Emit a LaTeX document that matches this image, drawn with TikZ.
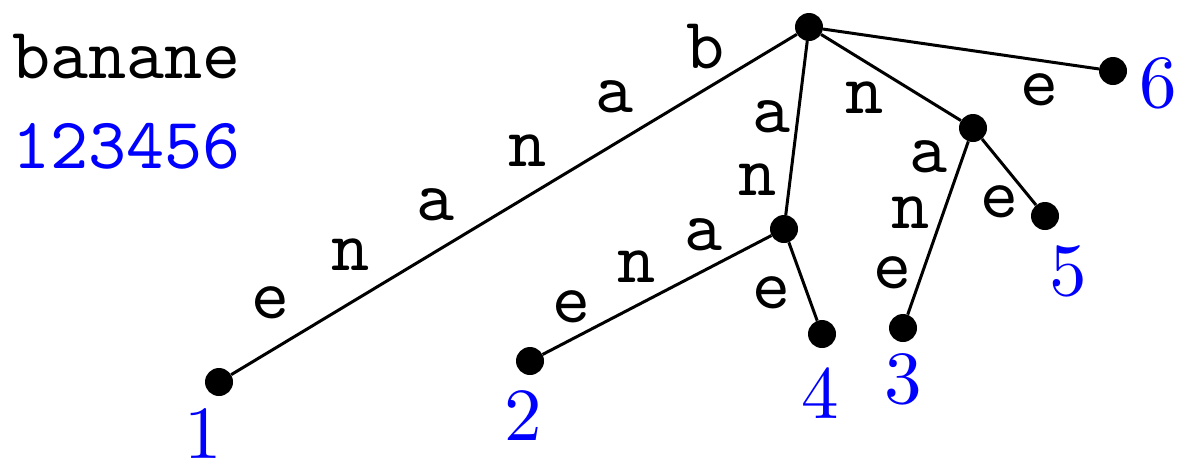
\documentclass[tikz,border=0pt]{standalone}
\usepackage{fontspec}
\newfontfamily\ttten{lmmono10-regular.otf}
\newfontfamily\rmten{lmroman10-regular.otf}
\tikzset{
  dot/.style={circle,fill=black,inner sep=0pt,minimum size=28pt},
  edge/.style={line width=3pt},
  lbl/.style={inner sep=0pt,anchor=base,font=\fontsize{72.5}{72.5}\selectfont\ttten},
  num/.style={inner sep=0pt,anchor=base,text=blue,font=\fontsize{75}{75}\selectfont\rmten}
}
\begin{document}
\begin{tikzpicture}[x=1pt,y=-1pt]
\useasboundingbox (0,0) rectangle (1180,459);
% word
\node[lbl,anchor=base west] (w) at (12,78) {banane};
\node[lbl,anchor=base west,text=blue] (wn) at (12,168) {123456};
% tree nodes
\node[dot] (r) at (809,27) {};
\node[dot] (l6) at (1113,71) {};
\node[dot] (nn) at (973,128) {};
\node[dot] (l5) at (1045,216) {};
\node[dot] (l3) at (903,328) {};
\node[dot] (an) at (784,229) {};
\node[dot] (l4) at (822,334) {};
\node[dot] (l2) at (530,361) {};
\node[dot] (l1) at (219,382) {};
% edges
\draw[edge] (r) -- (l1);
\draw[edge] (r) -- (an);
\draw[edge] (r) -- (nn);
\draw[edge] (r) -- (l6);
\draw[edge] (an) -- (l2);
\draw[edge] (an) -- (l4);
\draw[edge] (nn) -- (l3);
\draw[edge] (nn) -- (l5);
% edge letters root -> 1
\node[lbl] (e1b) at (706,68) {b};
\node[lbl] (e1a) at (615,112) {a};
\node[lbl] (e1n) at (528,166) {n};
\node[lbl] (e1a2) at (436,220) {a};
\node[lbl] (e1n2) at (351,270) {n};
\node[lbl] (e1e) at (271,318) {e};
% root -> an
\node[lbl] (ea) at (772,132) {a};
\node[lbl] (en) at (758,195) {n};
% an -> 2
\node[lbl] (e2a) at (704,250) {a};
\node[lbl] (e2n) at (637,282) {n};
\node[lbl] (e2e) at (572,322) {e};
% an -> 4
\node[lbl] (e4e) at (772,308) {e};
% root -> nn
\node[lbl] (enn) at (865,113) {n};
% nn -> 3
\node[lbl] (e3a) at (929,172) {a};
\node[lbl] (e3n) at (911,228) {n};
\node[lbl] (e3e) at (893,288) {e};
% nn -> 5
\node[lbl] (e5e) at (1000,217) {e};
% root -> 6
\node[lbl] (e6e) at (1040,105) {e};
% leaf numbers
\node[num] (n1) at (203,458) {1};
\node[num] (n2) at (523,440) {2};
\node[num] (n3) at (903,403) {3};
\node[num] (n4) at (820,418) {4};
\node[num] (n5) at (1068,295) {5};
\node[num] (n6) at (1158,107) {6};
\end{tikzpicture}
\end{document}
